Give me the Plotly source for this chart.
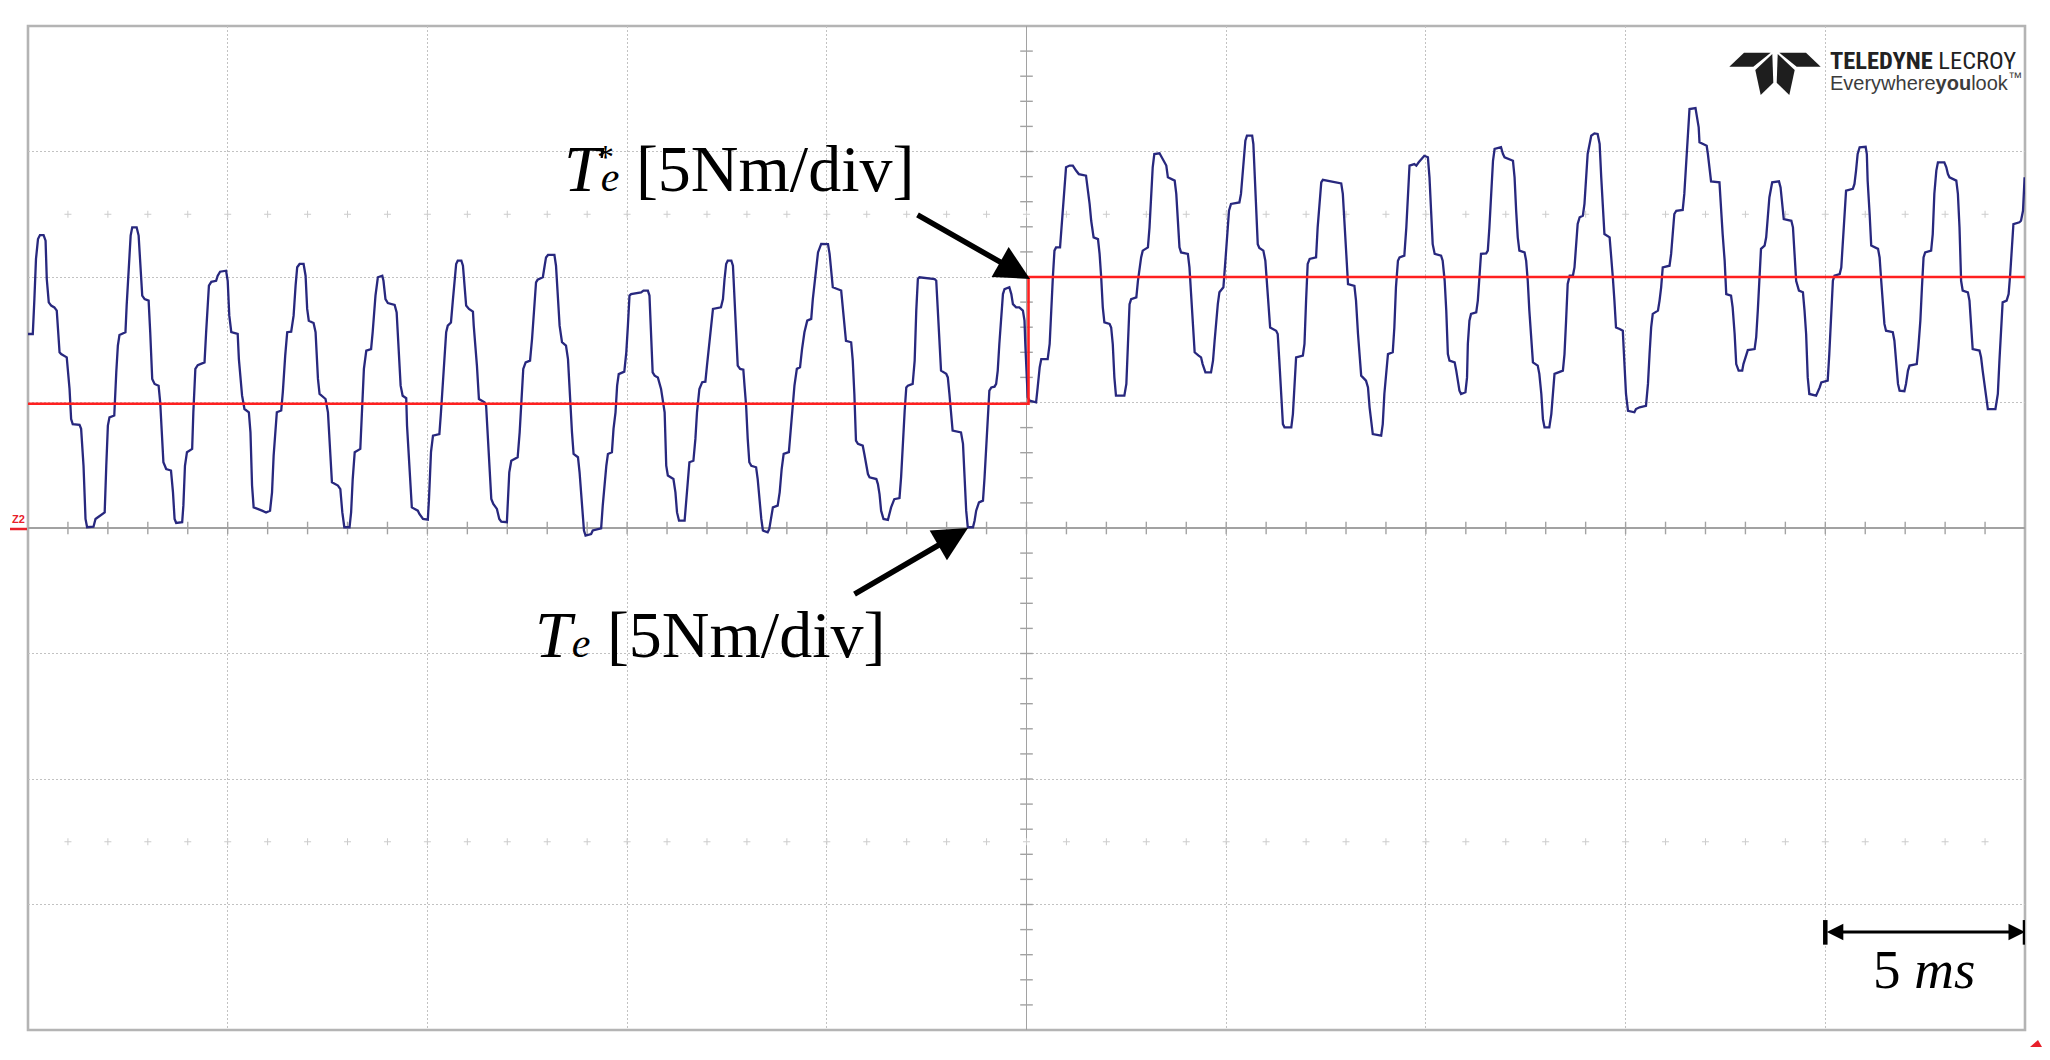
import numpy as np
import plotly.graph_objects as go

# ---------------- data (time in ms, torque in Nm) ----------------
TE_SEG_1 = [(-25.00, 7.73), (-24.88, 7.73), (-24.84, 9.12), (-24.80, 10.72), (-24.75, 11.51), (-24.70, 11.67),
            (-24.61, 11.67), (-24.56, 11.45), (-24.53, 9.92), (-24.48, 8.99), (-24.42, 8.86), (-24.34, 8.79),
            (-24.28, 8.66), (-24.21, 7.00), (-24.17, 6.93), (-24.03, 6.80), (-23.96, 5.54), (-23.92, 4.34),
            (-23.88, 4.14), (-23.71, 4.11), (-23.67, 3.95), (-23.61, 2.48), (-23.56, 0.36), (-23.52, 0.03),
            (-23.36, 0.05), (-23.31, 0.36), (-23.25, 0.43), (-23.13, 0.56), (-23.08, 0.62), (-23.04, 2.48),
            (-23.00, 4.08), (-22.96, 4.41), (-22.84, 4.48), (-22.79, 6.20), (-22.75, 7.27), (-22.71, 7.69),
            (-22.56, 7.80), (-22.53, 8.86), (-22.48, 10.19), (-22.43, 11.65), (-22.39, 11.98), (-22.28, 11.98),
            (-22.23, 11.65), (-22.19, 10.45), (-22.14, 9.26), (-22.08, 9.12), (-21.98, 9.06), (-21.94, 7.80),
            (-21.89, 5.94), (-21.83, 5.74), (-21.73, 5.67), (-21.69, 5.01), (-21.64, 3.55), (-21.61, 2.62),
            (-21.54, 2.35), (-21.42, 2.29), (-21.37, 1.42), (-21.33, 0.36), (-21.29, 0.20), (-21.14, 0.23),
            (-21.11, 0.89), (-21.07, 2.48), (-21.02, 3.02), (-20.89, 3.15), (-20.86, 4.61), (-20.81, 6.34),
            (-20.75, 6.49), (-20.58, 6.60), (-20.54, 7.80), (-20.47, 9.66), (-20.41, 9.81), (-20.29, 9.85),
            (-20.25, 10.05), (-20.19, 10.21), (-20.04, 10.25), (-20.00, 9.85), (-19.96, 8.46), (-19.91, 7.80),
            (-19.75, 7.73), (-19.72, 6.73), (-19.64, 5.27), (-19.58, 4.74), (-19.47, 4.61), (-19.43, 3.81),
            (-19.39, 1.69), (-19.35, 0.82), (-19.14, 0.69), (-19.04, 0.62), (-18.94, 0.69), (-18.89, 1.42),
            (-18.85, 2.88), (-18.80, 4.08), (-18.77, 4.61), (-18.66, 4.68), (-18.62, 5.41), (-18.56, 6.87),
            (-18.51, 7.80), (-18.41, 7.82), (-18.35, 8.46), (-18.30, 9.66), (-18.26, 10.39), (-18.20, 10.52),
            (-18.10, 10.52), (-18.05, 10.05), (-18.01, 8.73), (-17.97, 8.26), (-17.85, 8.17), (-17.80, 7.80),
            (-17.74, 5.94), (-17.70, 5.34), (-17.55, 5.14), (-17.49, 4.61), (-17.45, 3.55), (-17.39, 1.82),
            (-17.24, 1.69), (-17.18, 1.55), (-17.13, 0.62), (-17.08, 0.03), (-16.95, 0.03), (-16.91, 0.62),
            (-16.87, 1.95), (-16.82, 3.02), (-16.68, 3.15), (-16.63, 4.87), (-16.59, 6.34), (-16.53, 7.07),
            (-16.41, 7.13), (-16.37, 7.80), (-16.30, 9.26), (-16.24, 9.99), (-16.13, 10.05), (-16.10, 9.85),
            (-16.05, 9.12), (-15.99, 8.96), (-15.82, 8.89), (-15.77, 8.59), (-15.72, 7.13), (-15.67, 5.67),
            (-15.62, 5.27), (-15.53, 5.17), (-15.51, 4.08), (-15.46, 2.48), (-15.43, 1.69), (-15.39, 0.82),
            (-15.24, 0.69), (-15.20, 0.56), (-15.11, 0.36), (-14.99, 0.33)]

TE_SEG_2 = [(-14.96, 1.16), (-14.91, 3.02), (-14.86, 3.68), (-14.70, 3.74), (-14.66, 4.61), (-14.57, 6.73),
            (-14.53, 7.80), (-14.49, 8.06), (-14.41, 8.19), (-14.36, 9.12), (-14.32, 9.79), (-14.28, 10.52),
            (-14.24, 10.65), (-14.15, 10.65), (-14.11, 10.45), (-14.07, 9.79), (-14.03, 8.86), (-13.96, 8.73),
            (-13.86, 8.62), (-13.84, 8.06), (-13.80, 7.40), (-13.76, 6.47), (-13.71, 5.14), (-13.65, 5.07),
            (-13.57, 5.01), (-13.53, 4.87), (-13.49, 3.81), (-13.45, 2.48), (-13.40, 1.16), (-13.35, 0.96),
            (-13.26, 0.76), (-13.20, 0.36), (-13.15, 0.25), (-13.01, 0.23), (-12.99, 0.89), (-12.95, 2.22),
            (-12.90, 2.68), (-12.74, 2.82), (-12.69, 3.81), (-12.65, 4.87), (-12.60, 6.34), (-12.54, 6.60),
            (-12.43, 6.67), (-12.38, 7.53), (-12.32, 8.73), (-12.28, 9.79), (-12.24, 9.89), (-12.11, 9.99),
            (-12.07, 10.39), (-12.03, 10.78), (-11.98, 10.88), (-11.82, 10.88), (-11.78, 10.45), (-11.73, 9.12),
            (-11.69, 8.06), (-11.63, 7.40), (-11.53, 7.27), (-11.48, 6.73), (-11.44, 5.41), (-11.38, 3.81),
            (-11.34, 2.95), (-11.23, 2.82), (-11.19, 2.22), (-11.15, 1.42), (-11.11, 0.36), (-11.08, -0.10),
            (-11.04, -0.30), (-10.90, -0.24), (-10.86, -0.10), (-10.65, -0.01), (-10.61, 0.89), (-10.57, 1.69),
            (-10.52, 2.48), (-10.48, 2.95), (-10.38, 3.02), (-10.34, 3.95), (-10.29, 4.61), (-10.25, 5.67),
            (-10.21, 6.13), (-10.07, 6.23), (-10.02, 7.00), (-9.98, 8.06), (-9.94, 9.26), (-9.90, 9.32),
            (-9.65, 9.39), (-9.59, 9.46), (-9.48, 9.46), (-9.44, 9.26), (-9.41, 7.80), (-9.36, 6.20),
            (-9.31, 6.07), (-9.23, 6.00), (-9.15, 5.54), (-9.06, 4.61), (-9.02, 2.48), (-8.98, 2.09),
            (-8.84, 1.95), (-8.79, 1.42), (-8.75, 0.62), (-8.70, 0.29), (-8.56, 0.29), (-8.52, 1.16),
            (-8.48, 1.95), (-8.44, 2.62), (-8.34, 2.68), (-8.29, 3.55), (-8.25, 4.61), (-8.19, 5.54),
            (-8.12, 5.81), (-8.04, 5.83), (-8.00, 6.47), (-7.95, 7.27), (-7.90, 8.19), (-7.85, 8.73),
            (-7.65, 8.79), (-7.60, 9.12), (-7.56, 9.92), (-7.52, 10.52), (-7.48, 10.65), (-7.39, 10.65),
            (-7.35, 10.45), (-7.31, 9.12), (-7.27, 7.80), (-7.23, 6.47), (-7.17, 6.34), (-7.09, 6.31),
            (-7.06, 5.67), (-7.02, 4.87), (-6.98, 3.55), (-6.94, 2.62), (-6.89, 2.48), (-6.77, 2.42),
            (-6.73, 1.95), (-6.69, 1.16), (-6.64, 0.36), (-6.60, -0.10), (-6.48, -0.17), (-6.44, -0.04),
            (-6.39, 0.49), (-6.35, 0.82), (-6.23, 0.89), (-6.18, 1.42), (-6.13, 2.35), (-6.08, 2.95),
            (-5.95, 3.02), (-5.92, 3.55), (-5.87, 4.61), (-5.81, 5.67), (-5.75, 6.34), (-5.67, 6.40),
            (-5.62, 7.13), (-5.56, 7.80), (-5.49, 8.26), (-5.39, 8.33), (-5.35, 9.12), (-5.31, 9.66),
            (-5.27, 10.19), (-5.22, 10.98), (-5.14, 11.32), (-5.02, 11.32)]

TE_SEG_3 = [(-4.97, 11.31), (-4.93, 10.92), (-4.89, 10.12), (-4.85, 9.59), (-4.64, 9.46), (-4.60, 8.79),
            (-4.56, 7.99), (-4.52, 7.46), (-4.39, 7.40), (-4.35, 6.67), (-4.31, 5.34), (-4.27, 3.48),
            (-4.22, 3.35), (-4.10, 3.28), (-4.06, 2.95), (-4.01, 2.55), (-3.97, 2.15), (-3.93, 2.02),
            (-3.76, 1.95), (-3.72, 1.75), (-3.68, 1.35), (-3.64, 0.69), (-3.58, 0.36), (-3.47, 0.32),
            (-3.43, 0.56), (-3.39, 0.82), (-3.31, 1.15), (-3.18, 1.19), (-3.14, 2.02), (-3.10, 3.35),
            (-3.05, 4.67), (-3.01, 5.60), (-2.97, 5.67), (-2.85, 5.74), (-2.80, 6.67), (-2.76, 8.66),
            (-2.72, 9.92), (-2.68, 9.99), (-2.30, 9.92), (-2.26, 9.85), (-2.22, 8.66), (-2.18, 7.33),
            (-2.14, 6.27), (-2.01, 6.14), (-1.97, 6.00), (-1.93, 5.34), (-1.89, 4.54), (-1.85, 3.88),
            (-1.64, 3.81), (-1.59, 3.35), (-1.55, 2.02), (-1.51, 0.69), (-1.47, 0.03), (-1.34, 0.03),
            (-1.30, 0.29), (-1.26, 0.69), (-1.19, 1.02), (-1.09, 1.09), (-1.05, 2.02), (-1.01, 3.35),
            (-0.97, 4.67), (-0.93, 5.47), (-0.88, 5.60), (-0.80, 5.63), (-0.76, 5.74), (-0.72, 6.27),
            (-0.68, 7.33), (-0.63, 8.66), (-0.59, 9.32), (-0.55, 9.52), (-0.43, 9.59), (-0.38, 9.32),
            (-0.34, 8.92), (-0.26, 8.79), (-0.18, 8.79), (-0.09, 8.66), (-0.05, 8.26), (-0.03, 7.33),
            (0.01, 6.00), (0.03, 5.21), (0.08, 5.07), (0.24, 5.01), (0.28, 5.60), (0.33, 6.40),
            (0.37, 6.73), (0.53, 6.73), (0.58, 7.33), (0.62, 9.06), (0.66, 9.99), (0.70, 11.05),
            (0.74, 11.18), (0.84, 11.18), (0.89, 12.24), (0.95, 13.57), (0.99, 14.37), (1.08, 14.44),
            (1.16, 14.44), (1.24, 14.24), (1.31, 14.10), (1.49, 14.04), (1.53, 13.57), (1.58, 12.91),
            (1.62, 12.24), (1.68, 11.58), (1.79, 11.51), (1.83, 10.92), (1.87, 9.99), (1.91, 8.79),
            (1.95, 8.19), (2.08, 8.13), (2.12, 7.99), (2.16, 7.33), (2.20, 6.00), (2.24, 5.27),
            (2.45, 5.27), (2.50, 5.74), (2.54, 7.33), (2.58, 8.92), (2.62, 9.12), (2.75, 9.19),
            (2.79, 9.85), (2.83, 10.38), (2.87, 10.78), (2.91, 11.05), (3.04, 11.18), (3.08, 11.98),
            (3.12, 13.31), (3.16, 14.37), (3.20, 14.90), (3.33, 14.93), (3.41, 14.70), (3.50, 14.44),
            (3.54, 13.97), (3.71, 13.84), (3.75, 13.31), (3.79, 12.24), (3.83, 11.18), (3.87, 10.98),
            (4.04, 10.92), (4.08, 10.38), (4.12, 9.32), (4.16, 7.99), (4.21, 7.00), (4.31, 6.87),
            (4.37, 6.80), (4.41, 6.53), (4.48, 6.20), (4.62, 6.20), (4.67, 6.67), (4.71, 7.46),
            (4.75, 8.26), (4.79, 8.92), (4.83, 9.39)]

TE_SEG_4 = [(4.87, 9.46), (4.93, 9.59), (4.98, 10.65), (5.02, 11.71), (5.07, 12.64), (5.12, 12.91),
            (5.33, 12.97), (5.37, 13.31), (5.40, 13.97), (5.43, 14.63), (5.48, 15.43), (5.52, 15.63),
            (5.65, 15.63), (5.68, 15.30), (5.72, 13.97), (5.75, 12.38), (5.79, 11.31), (5.83, 11.16),
            (5.93, 11.05), (5.98, 10.65), (6.02, 9.85), (6.06, 9.06), (6.10, 7.99), (6.25, 7.86),
            (6.29, 7.73), (6.33, 6.67), (6.38, 5.34), (6.42, 4.14), (6.46, 4.01), (6.63, 4.01),
            (6.67, 4.54), (6.71, 5.60), (6.75, 6.80), (6.92, 6.87), (6.96, 7.33), (7.00, 9.06),
            (7.04, 10.52), (7.09, 10.72), (7.25, 10.78), (7.29, 11.98), (7.34, 13.04), (7.38, 13.77),
            (7.42, 13.87), (7.63, 13.81), (7.88, 13.73), (7.92, 13.31), (7.96, 12.24), (8.00, 10.92),
            (8.05, 9.72), (8.21, 9.65), (8.25, 9.06), (8.30, 7.73), (8.34, 6.67), (8.38, 6.07),
            (8.50, 5.87), (8.55, 5.60), (8.59, 4.81), (8.63, 4.14), (8.67, 3.74), (8.88, 3.68),
            (8.92, 4.14), (8.96, 5.34), (9.01, 6.40), (9.05, 6.93), (9.17, 7.00), (9.21, 7.99),
            (9.25, 9.59), (9.30, 10.65), (9.34, 10.78), (9.46, 10.85), (9.51, 11.98), (9.55, 13.31),
            (9.59, 14.44), (9.71, 14.50), (9.76, 14.44), (9.82, 14.57), (9.88, 14.70), (9.96, 14.83),
            (10.05, 14.77), (10.09, 13.97), (10.13, 12.64), (10.17, 11.31), (10.22, 10.92), (10.38, 10.85),
            (10.42, 10.65), (10.47, 9.85), (10.51, 8.66), (10.55, 6.93), (10.59, 6.67), (10.72, 6.60),
            (10.76, 6.27), (10.80, 5.87), (10.84, 5.47), (10.88, 5.34), (10.99, 5.41), (11.03, 6.00),
            (11.05, 7.33), (11.09, 8.26), (11.13, 8.53), (11.26, 8.59), (11.30, 9.06), (11.34, 9.99),
            (11.38, 10.92), (11.51, 10.94), (11.55, 11.05), (11.59, 11.98), (11.63, 13.31), (11.68, 14.63),
            (11.72, 15.10), (11.88, 15.17), (11.93, 14.90), (11.97, 14.77), (12.18, 14.63), (12.22, 13.97),
            (12.26, 12.64), (12.30, 11.58), (12.34, 11.05), (12.47, 10.98), (12.51, 10.65), (12.55, 9.85),
            (12.59, 8.66), (12.64, 7.33), (12.68, 6.60), (12.80, 6.47), (12.84, 6.14), (12.89, 5.34),
            (12.93, 4.34), (12.97, 4.01), (13.09, 4.01), (13.14, 4.54), (13.18, 5.34), (13.22, 6.14),
            (13.43, 6.27), (13.47, 6.93), (13.51, 8.26), (13.55, 9.72), (13.60, 10.05), (13.68, 10.05),
            (13.72, 10.38), (13.76, 11.31), (13.80, 12.11), (13.85, 12.38), (13.93, 12.44), (13.97, 12.91),
            (14.01, 13.97), (14.05, 14.90), (14.14, 15.63), (14.22, 15.72), (14.30, 15.70), (14.35, 15.30),
            (14.39, 13.97), (14.43, 12.64), (14.47, 11.71), (14.60, 11.58), (14.64, 10.92), (14.68, 9.99),
            (14.72, 9.06), (14.76, 7.99), (14.85, 7.93)]

TE_SEG_5 = [(14.93, 7.86), (14.95, 7.20), (14.97, 6.40), (15.01, 5.34), (15.06, 4.67), (15.22, 4.61),
            (15.26, 4.74), (15.35, 4.81), (15.51, 4.87), (15.56, 5.74), (15.60, 6.93), (15.64, 7.99),
            (15.68, 8.53), (15.81, 8.66), (15.85, 9.06), (15.89, 9.59), (15.93, 10.38), (16.10, 10.45),
            (16.14, 10.92), (16.18, 11.71), (16.22, 12.51), (16.27, 12.64), (16.43, 12.67), (16.47, 13.31),
            (16.52, 14.63), (16.56, 15.83), (16.60, 16.69), (16.75, 16.73), (16.78, 16.49), (16.83, 15.96),
            (16.85, 15.37), (17.03, 15.23), (17.06, 14.90), (17.10, 14.37), (17.14, 13.81), (17.35, 13.77),
            (17.39, 12.64), (17.43, 11.71), (17.48, 10.65), (17.52, 9.32), (17.64, 9.26), (17.68, 8.79),
            (17.73, 7.73), (17.77, 6.53), (17.83, 6.27), (17.92, 6.27), (17.95, 6.53), (18.00, 6.80),
            (18.06, 7.09), (18.23, 7.13), (18.27, 7.60), (18.31, 8.66), (18.35, 9.85), (18.39, 11.12),
            (18.48, 11.25), (18.52, 11.58), (18.56, 12.38), (18.60, 13.17), (18.67, 13.77), (18.84, 13.81),
            (18.88, 13.57), (18.92, 12.91), (18.96, 12.31), (19.15, 12.24), (19.19, 11.98), (19.23, 10.92),
            (19.27, 9.85), (19.34, 9.46), (19.44, 9.39), (19.48, 8.66), (19.52, 7.73), (19.56, 6.00),
            (19.60, 5.34), (19.77, 5.27), (19.81, 5.41), (19.86, 5.60), (19.90, 5.80), (20.06, 5.87),
            (20.10, 6.93), (20.15, 8.66), (20.19, 9.85), (20.23, 10.05), (20.36, 10.12), (20.40, 10.38),
            (20.44, 11.31), (20.48, 12.24), (20.52, 13.44), (20.69, 13.51), (20.73, 13.71), (20.77, 14.24),
            (20.81, 14.90), (20.86, 15.17), (21.01, 15.19), (21.04, 14.90), (21.06, 13.84), (21.11, 12.51),
            (21.15, 11.25), (21.32, 11.12), (21.36, 10.78), (21.40, 9.85), (21.44, 9.06), (21.48, 8.13),
            (21.52, 7.86), (21.69, 7.80), (21.73, 7.46), (21.77, 6.67), (21.82, 5.74), (21.86, 5.47),
            (21.98, 5.45), (22.02, 5.74), (22.07, 6.27), (22.11, 6.47), (22.29, 6.53), (22.33, 7.20),
            (22.38, 8.26), (22.42, 9.59), (22.46, 10.78), (22.50, 10.98), (22.65, 11.05), (22.69, 11.71),
            (22.73, 13.31), (22.78, 14.24), (22.82, 14.57), (22.98, 14.57), (23.03, 14.37), (23.07, 14.10),
            (23.11, 13.97), (23.28, 13.84), (23.32, 13.31), (23.36, 11.98), (23.40, 9.85), (23.44, 9.46),
            (23.57, 9.39), (23.61, 9.06), (23.65, 7.99), (23.69, 7.13), (23.86, 7.07), (23.90, 6.80),
            (23.94, 6.27), (23.99, 5.74), (24.03, 5.14), (24.07, 4.74), (24.26, 4.74), (24.32, 5.34),
            (24.36, 6.67), (24.40, 8.13), (24.44, 8.99), (24.54, 9.06), (24.59, 9.32), (24.63, 10.12),
            (24.67, 11.18), (24.71, 12.11), (24.86, 12.18), (24.90, 12.24), (24.95, 12.64), (24.99, 13.97)]

# Torque reference Te* (step command)
TREF_TIME = [-25.0, 0.05, 0.05, 25.0]
TREF_VALUE = [4.95, 4.95, 10.0, 10.0]

X_RANGE = [-25, 25]   # 10 div x 5 ms
Y_RANGE = [-20, 20]   # 8 div x 5 Nm

# ---------------- figure geometry ----------------
W, H = 2050, 1060
ML, MR, MT, MB = 28, 25, 26, 30
PW, PH = W - ML - MR, H - MT - MB


def P(px, py):
    """pixel position -> data coordinates (for decorations only)"""
    t = X_RANGE[0] + (px - ML) / PW * (X_RANGE[1] - X_RANGE[0])
    v = Y_RANGE[1] - (py - MT) / PH * (Y_RANGE[1] - Y_RANGE[0])
    return t, v


def PP(px, py):
    """pixel position -> paper coordinates"""
    return (px - ML) / PW, (H - MB - py) / PH


te_points = TE_SEG_1 + TE_SEG_2 + TE_SEG_3 + TE_SEG_4 + TE_SEG_5
te_time = [p[0] for p in te_points]
te_value = [p[1] for p in te_points]

fig = go.Figure()

# graticule tick marks on the centre lines and dotted rows
tk = np.arange(-24, 25, 1)
fig.add_trace(go.Scatter(x=tk, y=np.zeros(len(tk)), mode="markers", hoverinfo="skip", showlegend=False,
                         marker=dict(symbol="line-ns", size=9, color="#a2a2a2",
                                     line=dict(width=1.4, color="#a2a2a2"))))
tv = np.arange(-19, 20, 1)
fig.add_trace(go.Scatter(x=np.zeros(len(tv)), y=tv, mode="markers", hoverinfo="skip", showlegend=False,
                         marker=dict(symbol="line-ew", size=9, color="#a2a2a2",
                                     line=dict(width=1.4, color="#a2a2a2"))))
for yrow in (12.5, -12.5):
    fig.add_trace(go.Scatter(x=tk, y=np.full(len(tk), yrow), mode="markers", hoverinfo="skip",
                             showlegend=False,
                             marker=dict(symbol="cross-thin", size=5, color="#cccccc",
                                         line=dict(width=1, color="#cccccc"))))

# measured torque
fig.add_trace(go.Scatter(x=te_time, y=te_value, mode="lines", name="Te", showlegend=False,
                         line=dict(color="#28287e", width=2.3), hoverinfo="skip"))
# reference torque
fig.add_trace(go.Scatter(x=TREF_TIME, y=TREF_VALUE, mode="lines", name="Te*", showlegend=False,
                         line=dict(color="#ff2020", width=2.6), hoverinfo="skip"))

axis_common = dict(showticklabels=False, ticks="", showline=False, showgrid=True,
                   gridcolor="#c2c2c2", gridwidth=1, griddash="2px,2px",
                   zeroline=True, zerolinecolor="#a2a2a2", zerolinewidth=1.6, fixedrange=True)
fig.update_xaxes(range=X_RANGE, dtick=5, tick0=0, **axis_common)
fig.update_yaxes(range=Y_RANGE, dtick=5, tick0=0, **axis_common)

shapes = []
# outer frame
shapes.append(dict(type="rect", xref="paper", yref="paper", x0=0, y0=0, x1=1, y1=1,
                   line=dict(color="#b4b4b4", width=2.6), layer="between"))

# scale bar end caps
for tc in (20, 25):
    shapes.append(dict(type="line", xref="x", yref="y", x0=tc, x1=tc, y0=-15.62, y1=-16.6,
                       line=dict(color="black", width=4.5)))

# Z2 marker dash (margin)
z0 = PP(10, 529)
z1 = PP(27, 529)
shapes.append(dict(type="line", xref="paper", yref="paper", x0=z0[0], x1=z1[0], y0=z0[1], y1=z1[1],
                   line=dict(color="#e8202a", width=2.5)))

# small red trigger marker below the bottom-right corner
tri = [PP(2030, 1047), PP(2038, 1040), PP(2042, 1047)]
shapes.append(dict(type="path", xref="paper", yref="paper",
                   path="M " + " L ".join(f"{a:.5f},{b:.5f}" for a, b in tri) + " Z",
                   fillcolor="#e8202a", line=dict(width=0)))

# Teledyne logo glyph
logo_polys = [
    [(1729.3, 66.7), (1744.0, 52.7), (1770.7, 52.7), (1753.3, 66.7)],
    [(1820.7, 66.7), (1806.0, 52.7), (1779.3, 52.7), (1796.7, 66.7)],
    [(1755.3, 70.0), (1772.3, 54.0), (1773.3, 82.7), (1760.7, 95.0)],
    [(1794.7, 70.0), (1777.7, 54.0), (1776.7, 82.7), (1789.3, 95.0)],
]
for poly in logo_polys:
    pts = [P(*q) for q in poly]
    path = "M " + " L ".join(f"{a:.4f},{b:.4f}" for a, b in pts) + " Z"
    shapes.append(dict(type="path", xref="x", yref="y", path=path,
                       fillcolor="#1e1e1e", line=dict(width=0), layer="above"))

annotations = []
SERIF = "Liberation Serif, Times New Roman, serif"
SMALL_E = "<span style='font-size:42px'><i>e</i></span>"

# Te* label
x, y = P(562, 168)
annotations.append(dict(x=x, y=y, xref="x", yref="y", xanchor="left", yanchor="middle", showarrow=False,
                        text="<i>T</i>" + SMALL_E + " [5Nm/div]",
                        font=dict(family=SERIF, size=66, color="black")))
x, y = P(605, 156)
annotations.append(dict(x=x, y=y, xref="x", yref="y", xanchor="center", yanchor="middle", showarrow=False,
                        text="*", font=dict(family=SERIF, size=34, color="black")))
# Te label
x, y = P(533, 634)
annotations.append(dict(x=x, y=y, xref="x", yref="y", xanchor="left", yanchor="middle", showarrow=False,
                        text="<i>T</i>" + SMALL_E + " [5Nm/div]",
                        font=dict(family=SERIF, size=66, color="black")))

# arrows
hx, hy = P(1030, 279)
annotations.append(dict(x=hx, y=hy, xref="x", yref="y", ax=916 - 1030, ay=214 - 279, text="",
                        showarrow=True, arrowhead=2, arrowsize=1.25, arrowwidth=5.5, arrowcolor="black",
                        standoff=0))
hx, hy = P(968, 528)
annotations.append(dict(x=hx, y=hy, xref="x", yref="y", ax=853 - 968, ay=595 - 528, text="",
                        showarrow=True, arrowhead=2, arrowsize=1.25, arrowwidth=5.5, arrowcolor="black",
                        standoff=0))

# 5 ms scale bar
annotations.append(dict(x=25, y=-16.1, ax=20, ay=-16.1, xref="x", yref="y", axref="x", ayref="y",
                        text="", showarrow=True, arrowhead=2, arrowside="end+start", arrowsize=1.1,
                        arrowwidth=3, arrowcolor="black", standoff=0, startstandoff=0))
x, y = P(1924, 969)
annotations.append(dict(x=x, y=y, xref="x", yref="y", xanchor="center", yanchor="middle", showarrow=False,
                        text="5 <i>ms</i>", font=dict(family=SERIF, size=55, color="black")))

# logo text
NARROW = "Liberation Sans Narrow, Arial Narrow, Roboto Condensed, Liberation Sans, sans-serif"
SANS = "Liberation Sans, Arial, sans-serif"
x, y = P(1829, 60)
annotations.append(dict(x=x, y=y, xref="x", yref="y", xanchor="left", yanchor="middle", showarrow=False,
                        borderpad=0,
                        text="<b>TELEDYNE</b> LECROY", font=dict(family=NARROW, size=24.5, color="#222222")))
x, y = P(1829, 81)
annotations.append(dict(x=x, y=y, xref="x", yref="y", xanchor="left", yanchor="middle", showarrow=False,
                        borderpad=0,
                        text="Everywhere<b>you</b>look<sup>™</sup>",
                        font=dict(family=SANS, size=20, color="#3c3c3c")))

# Z2 channel marker text
zx, zy = PP(18, 519)
annotations.append(dict(x=zx, y=zy, xref="paper", yref="paper", xanchor="center", yanchor="middle",
                        showarrow=False, text="<b>Z2</b>",
                        font=dict(family=SANS, size=11, color="#e8202a")))

fig.update_layout(width=W, height=H, margin=dict(l=ML, r=MR, t=MT, b=MB, pad=0),
                  plot_bgcolor="white", paper_bgcolor="white", showlegend=False,
                  shapes=shapes, annotations=annotations, hovermode=False)

fig.write_html("out.html", include_plotlyjs=True, full_html=True,
               config={"displayModeBar": False, "staticPlot": True},
               post_script="document.body.style.margin='0';document.body.style.overflow='hidden';")
